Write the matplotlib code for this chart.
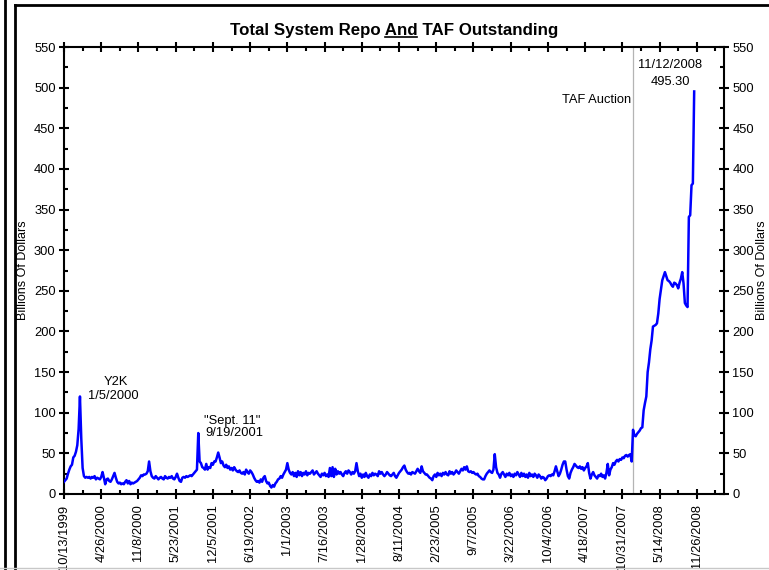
import pandas as pd
import matplotlib
matplotlib.use("Agg")
import matplotlib.pyplot as plt
import matplotlib.dates as mdates
from matplotlib.lines import Line2D
from matplotlib.ticker import MultipleLocator

plt.rcParams["font.family"] = ["Liberation Sans", "DejaVu Sans"]

# weekly (Wednesday) readings, billions of dollars, first one on 10/13/1999
start_date = "1999-10-13"

repo_1999 = [15, 17, 19, 25, 30, 34, 36, 45, 47, 52, 60, 80]
repo_2000 = [120, 68, 32, 22, 20, 21, 20, 21, 19, 21, 20, 22, 18, 20, 19, 18, 21, 27,
             20, 12, 18, 19, 16, 15, 18, 22, 26, 20, 15, 13, 14, 12, 13, 12, 15, 17,
             13, 16, 12, 14, 13, 14, 15, 16, 18, 20, 23, 22, 24, 24, 25, 28]
repo_2001 = [40, 28, 22, 20, 19, 22, 20, 18, 20, 21, 19, 18, 22, 20, 19, 21, 20, 22,
             19, 18, 21, 25, 20, 16, 15, 20, 21, 20, 22, 21, 22, 23, 22, 24, 26, 28,
             30, 75, 40, 38, 33, 32, 30, 37, 30, 33, 32, 38, 36, 40, 40, 45]
repo_2002 = [51, 45, 38, 40, 35, 33, 36, 32, 34, 30, 32, 29, 33, 30, 28, 27, 29, 26,
             25, 27, 24, 30, 27, 25, 29, 27, 24, 20, 17, 15, 16, 14, 18, 15, 20, 22,
             16, 13, 14, 10, 8, 11, 9, 13, 15, 18, 19, 22, 20, 24, 27, 30]
repo_2003 = [38, 30, 26, 24, 27, 22, 26, 21, 28, 23, 27, 22, 26, 24, 28, 23, 26, 25,
             27, 29, 24, 26, 28, 25, 23, 21, 25, 23, 26, 22, 24, 21, 32, 22, 33, 21,
             31, 24, 28, 25, 27, 24, 22, 26, 28, 25, 29, 27, 24, 27, 25, 28, 38]
repo_2004 = [28, 22, 25, 20, 24, 21, 26, 22, 20, 24, 22, 26, 23, 25, 24, 22, 28, 25,
             27, 24, 22, 24, 27, 25, 23, 22, 24, 26, 22, 20, 23, 26, 28, 30, 33, 35,
             30, 27, 25, 26, 24, 27, 26, 25, 28, 31, 28, 26, 34, 28, 26, 24]
repo_2005 = [24, 22, 20, 19, 17, 22, 24, 21, 26, 23, 25, 22, 26, 24, 27, 24, 23, 28,
             25, 27, 24, 26, 29, 27, 25, 28, 31, 29, 33, 30, 34, 28, 27, 28, 26, 27,
             25, 24, 25, 22, 21, 19, 18, 18, 22, 25, 27, 29, 27, 26, 30, 49]
repo_2006 = [33, 26, 24, 20, 25, 27, 24, 21, 25, 23, 26, 22, 24, 21, 25, 23, 27, 24,
             21, 26, 22, 25, 21, 24, 20, 26, 22, 24, 21, 25, 23, 20, 24, 22, 19, 21,
             20, 17, 19, 22, 23, 22, 24, 23, 28, 34, 28, 22, 25, 30, 36, 40]
repo_2007 = [40, 30, 22, 19, 26, 30, 33, 37, 35, 33, 32, 34, 31, 33, 29, 32, 34, 38,
             26, 19, 24, 27, 23, 21, 19, 23, 22, 25, 21, 23, 19, 26, 37, 23, 30, 33,
             38, 36, 40, 42, 40, 43, 42, 45, 44, 47, 48, 46, 48, 49, 40, 79]
repo_2008 = [72, 71, 74, 76, 78, 81, 82, 103, 112, 120, 150, 162, 178, 189, 206, 207,
             208, 210, 222, 240, 252, 263, 268, 273, 268, 263, 262, 260, 257, 255, 260,
             259, 257, 253, 260, 265, 273, 259, 235, 232, 230, 341, 343, 380, 382, 495.3]

tick_labels = ["10/13/1999", "4/26/2000", "11/8/2000", "5/23/2001", "12/5/2001",
               "6/19/2002", "1/1/2003", "7/16/2003", "1/28/2004", "8/11/2004",
               "2/23/2005", "9/7/2005", "3/22/2006", "10/4/2006", "4/18/2007",
               "10/31/2007", "5/14/2008", "11/26/2008"]
taf_date = "2007-12-27"
end_date = "2009-04-18"

values = (repo_1999 + repo_2000 + repo_2001 + repo_2002 + repo_2003 + repo_2004
          + repo_2005 + repo_2006 + repo_2007 + repo_2008)
dates = pd.date_range(start_date, periods=len(values), freq="7D")

W, H = 769, 570
fig = plt.figure(figsize=(W / 100, H / 100), dpi=100)
ax = fig.add_axes([64 / W, 76 / H, 660 / W, 447 / H])

ax.plot(dates, values, color="#0000FF", lw=1.8, zorder=3)
ax.axvline(pd.Timestamp(taf_date), color="#B4B4B4", lw=0.9, zorder=1)

ax.set_ylim(0, 550)
ax.set_xlim(pd.Timestamp(start_date), pd.Timestamp(end_date))
ax.yaxis.set_major_locator(MultipleLocator(50))
ax.yaxis.set_minor_locator(MultipleLocator(25))

tick_dates = pd.to_datetime(tick_labels, format="%m/%d/%Y")
minor_dates = tick_dates + pd.Timedelta(days=98)
ax.set_xticks(mdates.date2num(tick_dates), tick_labels, rotation=90)
ax.set_xticks(mdates.date2num(minor_dates), minor=True)

ax.tick_params(which="major", direction="inout", length=7, width=1.5, labelsize=9.3)
ax.tick_params(which="minor", direction="in", length=3, width=1.5)
ax.tick_params(axis="x", which="both", top=True, pad=4)
ax.tick_params(axis="y", which="both", right=True, labelright=True, pad=2.5)
for s in ax.spines.values():
    s.set_linewidth(1.5)

# y axis titles on both sides
fig.text(23.5 / W, 1 - 270.5 / H, "Billions Of Dollars", rotation=90,
         ha="center", va="center", fontsize=9)
fig.text(762 / W, 1 - 270.5 / H, "Billions Of Dollars", rotation=90,
         ha="center", va="center", fontsize=9)

# notes
def d(s):
    return mdates.date2num(pd.Timestamp(s))

ax.text(d("2000-07-13"), 138, "Y2K", ha="center", va="center", fontsize=9.3)
ax.text(d("2000-06-27"), 120, "1/5/2000", ha="center", va="center", fontsize=9.3)
ax.text(d("2002-03-15"), 90, '"Sept. 11"', ha="center", va="center", fontsize=9.3)
ax.text(d("2002-03-28"), 75, "9/19/2001", ha="center", va="center", fontsize=9.3)
ax.text(d("2008-07-07"), 528, "11/12/2008", ha="center", va="center", fontsize=9.3)
ax.text(d("2008-07-12"), 507, "495.30", ha="center", va="center", fontsize=9.3)
ax.text(d("2007-12-14"), 485, "TAF Auction", ha="right", va="center", fontsize=9.3)

# title with "And" underlined
title = "Total System Repo And TAF Outstanding"
tprops = dict(fontsize=12.2, fontweight="bold")
t = fig.text(394 / W, 1 - 35 / H, title, ha="center", va="baseline", **tprops)
fig.canvas.draw()
r = fig.canvas.get_renderer()
bb = t.get_window_extent(r)
tmp = fig.text(0, 0, "Total System Repo And", **tprops)
w_pre = tmp.get_window_extent(r).width
tmp.remove()
tmp = fig.text(0, 0, "And", **tprops)
w_and = tmp.get_window_extent(r).width
tmp.remove()
x1 = (bb.x0 + w_pre) / W
x0 = x1 - w_and / W
fig.add_artist(Line2D([x0, x1], [1 - 37 / H, 1 - 37 / H], color="black", lw=1.2))

# page frame lines
fig.add_artist(Line2D([4.7 / W, 4.7 / W], [0, 1], color="black", lw=2))
fig.add_artist(Line2D([14.7 / W, 14.7 / W], [0, 1 - 4.7 / H], color="black", lw=2))
fig.add_artist(Line2D([14.7 / W, 1], [1 - 4.7 / H, 1 - 4.7 / H], color="black", lw=2))
fig.add_artist(Line2D([0, 1], [2 / H, 2 / H], color="#C8C8C8", lw=1))

fig.savefig("out.png", dpi=100)
